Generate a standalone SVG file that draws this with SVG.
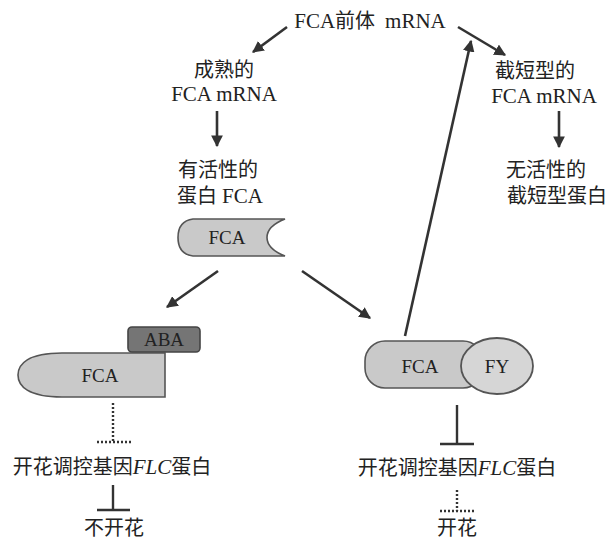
<svg xmlns="http://www.w3.org/2000/svg" width="613" height="540" viewBox="0 0 613 540">
<defs>
<marker id="ah" viewBox="0 0 10 10" refX="9" refY="5" markerWidth="4.5" markerHeight="4.5" orient="auto" markerUnits="strokeWidth">
<path d="M0,0 L10,5 L0,10 Z" fill="#333"/>
</marker>
</defs>
<style>
text{font-family:"Liberation Serif","Noto Sans CJK SC",serif;fill:#222;font-size:20px;text-anchor:middle}
.lat{font-size:21px}
.lab{font-size:19px}
.arr{stroke:#333;stroke-width:2.6;fill:none;marker-end:url(#ah)}
.bar{stroke:#333;stroke-width:2.4;fill:none}
.dot{stroke:#333;stroke-width:2.4;fill:none;stroke-dasharray:2,2}
.prot{fill:#c9c9c9;stroke:#555;stroke-width:1.6}
</style>
<rect width="613" height="540" fill="#fff"/>

<g id="connectors">
<line class="arr" x1="287" y1="27" x2="253" y2="52"/>
<line class="arr" x1="217" y1="111" x2="217" y2="146"/>
<line class="arr" x1="458" y1="27" x2="505" y2="55"/>
<line class="arr" x1="559" y1="111" x2="559" y2="147"/>
<line class="arr" x1="218" y1="271" x2="167" y2="307"/>
<line class="arr" x1="302" y1="271" x2="370" y2="318"/>
<line class="arr" x1="405" y1="336" x2="471" y2="41"/>
<line class="dot" x1="113" y1="403" x2="113" y2="442"/>
<line class="dot" x1="97" y1="442" x2="131" y2="442"/>
<line class="bar" x1="113" y1="485" x2="113" y2="510"/>
<line class="bar" x1="97" y1="510" x2="130" y2="510"/>
<line class="bar" x1="457" y1="405" x2="457" y2="444"/>
<line class="bar" x1="440" y1="444" x2="474" y2="444"/>
<line class="dot" x1="457" y1="490" x2="457" y2="511"/>
<line class="dot" x1="440" y1="511" x2="475" y2="511"/>
</g>

<g id="precursor"><text x="370" y="28" xml:space="preserve"><tspan class="lat">FCA</tspan>前体  <tspan class="lat">mRNA</tspan></text></g>
<g id="mature"><text x="224" y="77">成熟的</text><text class="lat" x="224" y="101">FCA mRNA</text></g>
<g id="truncated"><text x="535" y="78">截短型的</text><text class="lat" x="544" y="103">FCA mRNA</text></g>
<g id="active"><text x="218" y="177">有活性的</text><text x="220" y="203">蛋白 <tspan class="lat">FCA</tspan></text></g>
<g id="inactive"><text x="546" y="177">无活性的</text><text x="557" y="203">截短型蛋白</text></g>

<g id="fca-active">
<path class="prot" d="M193,219 L285,219 Q267,226 267,237.5 Q267,249 285,256 L193,256 Q178,254 178,237.5 Q178,221 193,219 Z"/>
<text class="lab" x="227" y="244">FCA</text>
</g>

<g id="fca-aba">
<path class="prot" d="M165,353 L165,397 L62,397 C28,397 18,386 18,375 C18,364 28,353 62,353 Z"/>
<text class="lab" x="100" y="382">FCA</text>
<rect x="128" y="327" width="72" height="25" rx="4" fill="#757575" stroke="#444" stroke-width="1.6"/>
<text class="lab" x="164" y="346" font-size="17">ABA</text>
</g>

<g id="fca-fy">
<rect class="prot" x="365" y="341" width="118" height="47" rx="20"/>
<text class="lab" x="420" y="373">FCA</text>
<ellipse cx="497" cy="366" rx="36" ry="28" fill="#d6d6d6" stroke="#555" stroke-width="1.8"/>
<text class="lab" x="497" y="373">FY</text>
</g>

<g id="flc-left"><text x="112" y="474">开花调控基因<tspan font-style="italic" class="lat">FLC</tspan>蛋白</text></g>
<g id="no-flower"><text x="114" y="535">不开花</text></g>
<g id="flc-right"><text x="457" y="475">开花调控基因<tspan font-style="italic" class="lat">FLC</tspan>蛋白</text></g>
<g id="flower"><text x="457" y="535">开花</text></g>
</svg>
